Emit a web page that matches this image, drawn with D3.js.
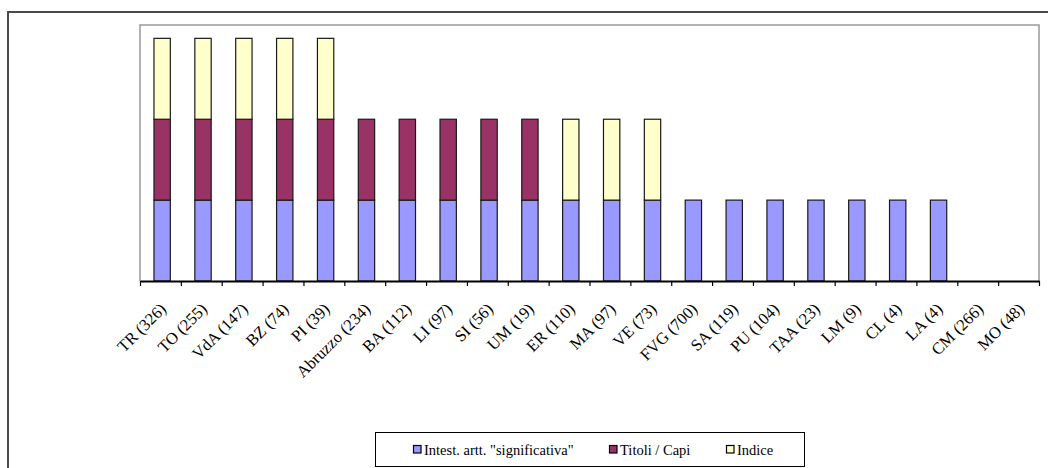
<!DOCTYPE html>
<html><head><meta charset="utf-8">
<script src="https://cdn.jsdelivr.net/npm/d3@7"></script>
<style>body{margin:0;background:#fff}svg{display:block}text{font-family:"Liberation Serif","Times New Roman",serif}</style>
</head><body>
<svg id="c" width="1048" height="468"></svg>
<script>
const categories = ["TR (326)","TO (255)","VdA (147)","BZ (74)","PI (39)","Abruzzo (234)","BA (112)","LI (97)","SI (56)","UM (19)","ER (110)","MA (97)","VE (73)","FVG (700)","SA (119)","PU (104)","TAA (23)","LM (9)","CL (4)","LA (4)","CM (266)","MO (48)"];
const intest = [1,1,1,1,1,1,1,1,1,1,1,1,1,1,1,1,1,1,1,1,0,0];
const titoli = [1,1,1,1,1,1,1,1,1,1,0,0,0,0,0,0,0,0,0,0,0,0];
const indice = [1,1,1,1,1,0,0,0,0,0,1,1,1,0,0,0,0,0,0,0,0,0];
const seriesNames = ['Intest. artt. "significativa"', 'Titoli / Capi', 'Indice'];
const seriesColors = ['#9999FF', '#993366', '#FFFFCC'];

const svg = d3.select('#c');
const L = 140, R = 1039, T = 25, B = 281;

// outer frame
svg.append('path').attr('d', `M8,470 L8,12 L1050,12`).attr('fill','none')
  .attr('stroke','#4a4a4a').attr('stroke-width',2);

const table = categories.map((c,i)=>({cat:c, s0:intest[i], s1:titoli[i], s2:indice[i]}));
const stack = d3.stack().keys(['s0','s1','s2'])(table);

const x = d3.scaleBand().domain(categories).range([L,R]).paddingInner(0.6).paddingOuter(0.3).align(0.57);
const y = d3.scaleLinear().domain([0, 3.165]).range([B, T]);
const xb = d3.scaleLinear().domain([0, categories.length]).range([L, R]);

// plot frame
svg.append('path').attr('d', `M${L},${B} L${L},${T} L${R},${T} L${R},${B}`)
  .attr('fill','none').attr('stroke','#999').attr('stroke-width',1.5);

// bars
stack.forEach((layer, si) => {
  svg.append('g').selectAll('rect').data(layer.filter(d => d[1] - d[0] > 0)).join('rect')
    .attr('x', d => x(d.data.cat))
    .attr('width', x.bandwidth())
    .attr('y', d => y(d[1]))
    .attr('height', d => y(d[0]) - y(d[1]))
    .attr('fill', seriesColors[si])
    .attr('stroke', '#1a1a1a').attr('stroke-width', 1.2);
});

// axis with boundary ticks
const ax = svg.append('g').attr('transform', `translate(0,${B})`)
  .call(d3.axisBottom(xb).tickValues(d3.range(categories.length+1)).tickFormat('').tickSize(5).tickSizeOuter(0));
ax.select('.domain').attr('stroke','#000').attr('stroke-width',2);
ax.selectAll('.tick line').attr('stroke','#000').attr('stroke-width',1.2);

// labels
svg.append('g').selectAll('text').data(categories).join('text')
  .attr('transform', d => `translate(${x(d) + x.bandwidth()/2 + 5},${B + 29}) rotate(-45)`)
  .attr('text-anchor', 'end')
  .style('font-family', '"Liberation Serif", "Times New Roman", serif')
  .style('font-size', '16.5px')
  .attr('fill', '#000')
  .text(d => d);

// legend
const lg = svg.append('g');
lg.append('rect').attr('x', 375.5).attr('y', 432.5).attr('width', 429).attr('height', 34)
  .attr('fill', '#fff').attr('stroke', '#000').attr('stroke-width', 1);
const legX = [413, 609, 726];
seriesNames.forEach((n, i) => {
  lg.append('rect').attr('x', legX[i] + 0.5).attr('y', 445.5).attr('width', 7.5).attr('height', 7.5)
    .attr('fill', seriesColors[i]).attr('stroke', '#000').attr('stroke-width', 1.2);
  lg.append('text').attr('x', legX[i] + 11).attr('y', 455)
    .style('font-family', '"Liberation Serif", "Times New Roman", serif')
    .style('font-size', '14.5px').attr('fill', '#000').text(n);
});
</script>
</body></html>
